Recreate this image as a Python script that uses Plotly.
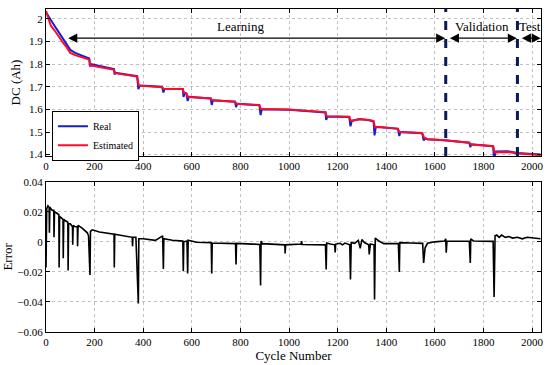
import plotly.graph_objects as go

# ---- Discharge capacity (DC) curves: (cycle, Ah) key points ----
est_cycles = [0, 10, 20, 35, 50, 60, 70, 85, 100, 120, 150, 178, 182, 280, 284, 375, 382,
              478, 484, 563, 568, 578, 584, 678, 684, 778, 784, 878, 884, 1000, 1150, 1155,
              1248, 1254, 1290, 1330, 1348, 1354, 1370, 1448, 1454, 1548, 1556, 1570, 1640,
              1742, 1748, 1840, 1846, 1900, 1940, 2035]
est_dc = [2.035, 2.0, 1.97, 1.95, 1.925, 1.91, 1.895, 1.875, 1.85, 1.84, 1.83, 1.82, 1.795,
          1.775, 1.76, 1.745, 1.705, 1.698, 1.69, 1.69, 1.673, 1.67, 1.655, 1.648, 1.64,
          1.634, 1.625, 1.619, 1.602, 1.600, 1.588, 1.57, 1.567, 1.549, 1.556, 1.553, 1.548,
          1.52, 1.522, 1.515, 1.5, 1.496, 1.475, 1.468, 1.463, 1.453, 1.445, 1.437, 1.41,
          1.412, 1.405, 1.398]

real_cycles = [0, 10, 20, 35, 50, 60, 70, 85, 100, 120, 150, 178, 181, 186, 280, 282, 287,
               375, 380, 386, 478, 483, 488, 563, 566, 571, 578, 583, 588, 678, 682, 687,
               778, 782, 787, 878, 883, 888, 1000, 1150, 1153, 1158, 1248, 1253, 1258, 1290,
               1330, 1348, 1352, 1357, 1370, 1448, 1454, 1458, 1548, 1554, 1560, 1570, 1640,
               1742, 1746, 1750, 1840, 1844, 1850, 1900, 1940, 2035]
real_dc = [2.03, 2.01, 1.995, 1.97, 1.945, 1.93, 1.915, 1.89, 1.863, 1.85, 1.838, 1.825,
           1.79, 1.80, 1.778, 1.755, 1.762, 1.747, 1.69, 1.706, 1.70, 1.675, 1.69, 1.69,
           1.655, 1.673, 1.67, 1.637, 1.656, 1.648, 1.62, 1.64, 1.634, 1.61, 1.625, 1.619,
           1.575, 1.601, 1.598, 1.586, 1.553, 1.569, 1.566, 1.525, 1.549, 1.557, 1.552,
           1.546, 1.485, 1.522, 1.522, 1.514, 1.482, 1.5, 1.495, 1.463, 1.472, 1.468, 1.464,
           1.453, 1.433, 1.446, 1.437, 1.375, 1.414, 1.415, 1.407, 1.400]

# ---- Estimation error: (cycle, error) key points ----
err_cycles = [0, 3, 8, 13, 14, 16, 25, 32, 33, 35, 45, 53, 54, 56, 63, 70, 71, 73, 80, 90,
              91, 93, 100, 109, 110, 112, 120, 129, 130, 132, 150, 170, 175, 181, 183, 190,
              220, 280, 281, 283, 300, 355, 356, 358, 370, 380, 382, 400, 450, 480, 483, 485,
              520, 563, 565, 567, 580, 583, 585, 620, 680, 682, 684, 740, 780, 782, 784, 850,
              880, 883, 885, 890, 950, 983, 984, 986, 1050, 1052, 1054, 1100, 1150, 1153,
              1155, 1170, 1188, 1190, 1192, 1210, 1220, 1230, 1250, 1253, 1256, 1270, 1285,
              1293, 1300, 1310, 1328, 1330, 1335, 1350, 1352, 1355, 1370, 1390, 1450, 1454,
              1456, 1500, 1550, 1554, 1560, 1570, 1600, 1640, 1645, 1647, 1650, 1700, 1742,
              1746, 1748, 1760, 1840, 1844, 1848, 1855, 1865, 1875, 1890, 1905, 1920, 1940,
              1960, 1980, 2000, 2035]
err_vals = [-0.017, 0.022, 0.024, 0.023, 0.006, 0.023, 0.021, 0.021, 0.003, 0.02, 0.019,
            0.018, -0.017, 0.017, 0.016, 0.015, -0.011, 0.015, 0.014, 0.013, -0.019, 0.012,
            0.012, 0.01, -0.002, 0.011, 0.01, 0.01, -0.003, 0.011, 0.009, 0.006, 0.004,
            -0.022, 0.007, 0.008, 0.0065, 0.005, -0.017, 0.005, 0.0045, 0.003, -0.003, 0.003,
            0.003, -0.041, 0.002, 0.002, 0.001, 0.004, -0.018, 0.002, 0.001, 0.0005, -0.0195,
            0.0, 0.0005, -0.021, 0.001, -0.0003, -0.0005, -0.021, -0.0008, -0.001, -0.0012,
            -0.015, -0.001, -0.0015, -0.0018, -0.029, 0.0005, -0.0012, -0.0018, -0.002,
            -0.0078, -0.002, -0.0015, 0.0005, -0.0018, -0.002, -0.002, -0.0184, -0.0008,
            -0.0015, -0.002, -0.007, -0.0015, -0.001, -0.002, -0.0008, -0.002, -0.025,
            -0.0005, -0.001, 0.001, -0.0044, 0.0015, -0.0005, -0.002, -0.0084, -0.0015,
            -0.002, -0.0384, 0.0025, 0.0005, -0.0012, -0.0012, -0.02, -0.0005, -0.0008,
            -0.001, -0.014, -0.004, -0.001, 0.0, 0.0005, 0.002, -0.0073, 0.0005, 0.0004,
            0.0004, -0.014, 0.002, 0.0005, 0.0003, -0.0367, 0.004, 0.0045, 0.003, 0.0045,
            0.003, 0.0035, 0.0025, 0.003, 0.002, 0.003, 0.0025, 0.002]

# ---- Data split boundaries and tick labels ----
split_cycles = [1645, 1940]
x_ticks = [0, 200, 400, 600, 800, 1000, 1200, 1400, 1600, 1800, 2000]
dc_ticks = [1.4, 1.5, 1.6, 1.7, 1.8, 1.9, 2.0]
dc_ticklabels = ["1.4", "1.5", "1.6", "1.7", "1.8", "1.9", "2"]
err_ticks = [-0.06, -0.04, -0.02, 0, 0.02, 0.04]
err_ticklabels = ["\u22120.06", "\u22120.04", "\u22120.02", "0", "0.02", "0.04"]

FONT = "Liberation Serif"
X_MAX = 2037

fig = go.Figure()
fig.add_trace(go.Scatter(x=real_cycles, y=real_dc, mode="lines", name="Real",
                         line=dict(color="rgb(20,30,210)", width=2), xaxis="x", yaxis="y"))
fig.add_trace(go.Scatter(x=est_cycles, y=est_dc, mode="lines", name="Estimated",
                         line=dict(color="rgb(255,10,40)", width=2), xaxis="x", yaxis="y"))
fig.add_trace(go.Scatter(x=err_cycles, y=err_vals, mode="lines", showlegend=False,
                         line=dict(color="black", width=1.6), xaxis="x2", yaxis="y2"))

axis_common = dict(showline=True, linecolor="black", linewidth=1, mirror="ticks",
                   ticks="inside", ticklen=4, tickcolor="black", automargin=False,
                   showgrid=True, gridcolor="#c0c0c0", griddash="dot", gridwidth=1,
                   zeroline=False, tickfont=dict(family=FONT, size=11, color="black"))

fig.update_layout(
    width=550, height=365,
    margin=dict(l=46, r=9, t=9, b=33),
    paper_bgcolor="white", plot_bgcolor="white",
    font=dict(family=FONT, color="black"),
    xaxis=dict(domain=[0, 1], range=[0, X_MAX], tickvals=x_ticks, anchor="y", **axis_common),
    yaxis=dict(domain=[0.545, 1], range=[1.394, 2.044], tickvals=dc_ticks,
               ticktext=dc_ticklabels, anchor="x",
               title=dict(text="DC (Ah)", font=dict(family=FONT, size=13), standoff=5),
               **axis_common),
    xaxis2=dict(domain=[0, 1], range=[0, X_MAX], tickvals=x_ticks, anchor="y2",
                title=dict(text="Cycle Number", font=dict(family=FONT, size=13), standoff=0),
                **axis_common),
    yaxis2=dict(domain=[0, 0.4653], range=[-0.06, 0.04], tickvals=err_ticks,
                ticktext=err_ticklabels, anchor="x2",
                title=dict(text="Error", font=dict(family=FONT, size=13), standoff=4),
                **axis_common),
    legend=dict(x=0.012, y=0.53, xanchor="left", yanchor="bottom",
                bgcolor="white", bordercolor="black", borderwidth=1,
                font=dict(family=FONT, size=10), tracegroupgap=0, itemwidth=30),
)

# dashed split lines
for c in split_cycles:
    fig.add_shape(type="line", x0=c, x1=c, y0=0, y1=1, xref="x", yref="y domain",
                  line=dict(color="rgb(10,25,90)", width=3, dash="dash"), layer="above")

# region arrows and labels
arrow_y = 1.915
regions = [(85, 1643, "Learning", 800), (1656, 1938, "Validation", 1794),
           (1952, 2036, "Test", 1990)]
for x0, x1, label, xt in regions:
    fig.add_annotation(x=x1, y=arrow_y, ax=x0, ay=arrow_y, xref="x", yref="y",
                       axref="x", ayref="y", text="", showarrow=True,
                       arrowhead=2, startarrowhead=2, arrowside="end+start",
                       arrowsize=1.4, startarrowsize=1.4, arrowwidth=1.3, arrowcolor="black")
    fig.add_annotation(x=xt, y=1.965, xref="x", yref="y", text=label, showarrow=False,
                       font=dict(family=FONT, size=13, color="black"))

fig.write_html("out.html", config={"displayModeBar": False},
               post_script="document.body.style.margin='0';")
